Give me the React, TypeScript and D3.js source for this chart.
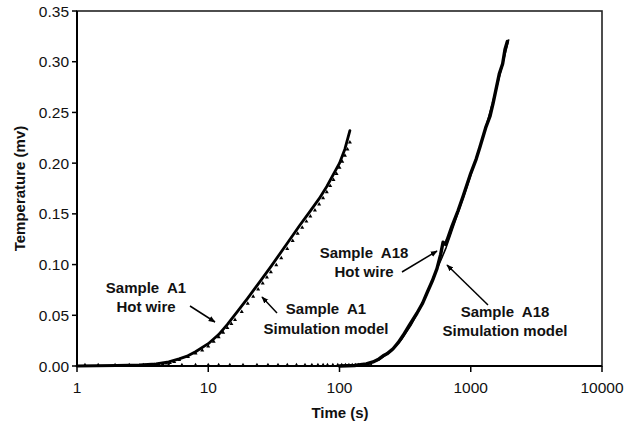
import React from "react";
import * as d3 from "d3";

// ---- Data ----
const xTicks = [1, 10, 100, 1000, 10000];
const yTicks = [0, 0.05, 0.1, 0.15, 0.2, 0.25, 0.3, 0.35];

// Sample A1 – hot wire (thick line)
const a1HotT = [1, 2, 3, 4, 5, 6, 7, 8, 10, 12, 14, 17, 20, 25, 30, 40, 50, 60, 70, 80, 100, 110, 120];
const a1HotV = [0, 0.0005, 0.001, 0.002, 0.004, 0.007, 0.010, 0.014, 0.022, 0.031, 0.041, 0.055, 0.067, 0.084, 0.098, 0.121, 0.139, 0.153, 0.165, 0.177, 0.200, 0.214, 0.232];

// Sample A1 – simulation model (triangle markers)
const a1SimT = [3, 3.3, 3.6, 3.9, 4.2, 4.5, 4.8, 5.1, 5.5, 6, 7, 8, 9, 10, 11, 12, 13, 14, 15, 16, 18, 20, 22, 24, 26, 28, 30, 33, 36, 40, 44, 48, 52, 56, 60, 65, 70, 75, 80, 85, 90, 95, 100, 105, 110, 115, 120];
const a1SimV = [0.0008, 0.001, 0.0013, 0.0016, 0.002, 0.0025, 0.003, 0.0037, 0.0045, 0.0065, 0.0095, 0.013, 0.016, 0.020, 0.0245, 0.029, 0.0335, 0.038, 0.042, 0.046, 0.054, 0.062, 0.069, 0.076, 0.082, 0.088, 0.093, 0.100, 0.107, 0.116, 0.124, 0.131, 0.137, 0.143, 0.148, 0.154, 0.160, 0.166, 0.172, 0.178, 0.184, 0.190, 0.196, 0.202, 0.208, 0.214, 0.221];

// Sample A18 – hot wire (thick wobbly line)
const a18HotT = [100, 130, 160, 180, 200, 215, 230, 256, 280, 305, 340, 389, 430, 464, 510, 553, 590, 615, 640, 660, 720, 800, 873, 1000, 1100, 1175, 1300, 1400, 1479, 1650, 1750, 1823, 1900];
const a18HotV = [0, 0.0005, 0.002, 0.004, 0.007, 0.010, 0.012, 0.017, 0.023, 0.030, 0.040, 0.052, 0.062, 0.072, 0.084, 0.096, 0.110, 0.122, 0.120, 0.124, 0.138, 0.153, 0.167, 0.190, 0.204, 0.216, 0.235, 0.246, 0.259, 0.288, 0.298, 0.312, 0.320];

// Sample A18 – simulation model (thin line)
const a18SimT = [100, 150, 200, 250, 300, 350, 400, 450, 500, 550, 600, 650, 700, 800, 900, 1000, 1200, 1400, 1600, 1800, 1950];
const a18SimV = [0, 0.001, 0.006, 0.015, 0.027, 0.040, 0.054, 0.068, 0.082, 0.095, 0.106, 0.117, 0.129, 0.151, 0.170, 0.188, 0.220, 0.250, 0.278, 0.304, 0.322];

// Simulation markers lying on the zero line
const zeroMarkT = [1.15, 1.45, 1.95, 2.5, 3.2, 4, 5, 6.3, 8, 10, 12, 14.6, 18.4, 23.5, 28.5, 34, 40, 47, 54.6, 61.6, 68.5, 75, 81, 89, 97, 104, 111, 118, 125, 132, 139, 146, 153, 160, 167, 174];

const W = 633;
const H = 425;
const left = 77, right = 602, top = 11, bottom = 366;

export default function App() {
  const x = d3.scaleLog().domain([1, 10000]).range([left, right]);
  const y = d3.scaleLinear().domain([0, 0.35]).range([bottom, top]);

  const line = d3
    .line<[number, number]>()
    .x((d) => x(d[0]))
    .y((d) => y(d[1]));

  const zip = (t: number[], v: number[]) => t.map((tt, i) => [tt, v[i]] as [number, number]);

  const a1Hot = zip(a1HotT, a1HotV);
  const a1Sim = zip(a1SimT, a1SimV);
  const a18Hot = zip(a18HotT, a18HotV);
  const a18Sim = zip(a18SimT, a18SimV);

  const tri = d3.symbol().type(d3.symbolTriangle).size(7)() as string;

  const font = "'Liberation Sans', Arial, sans-serif";
  const labelStyle: React.CSSProperties = { whiteSpace: "pre" };

  return (
    <svg
      width={W}
      height={H}
      style={{ position: "absolute", left: 0, top: 0, background: "#fff" }}
      fontFamily={font}
    >
      <defs>
        <marker id="ah" viewBox="0 0 10 10" refX="9" refY="5" markerWidth="7" markerHeight="7" orient="auto-start-reverse" markerUnits="userSpaceOnUse">
          <path d="M0,1 L10,5 L0,9 Z" fill="#000" />
        </marker>
      </defs>
      <rect x={0} y={0} width={W} height={H} fill="#fff" />

      {/* frame */}
      <rect x={left} y={top} width={right - left} height={bottom - top} fill="none" stroke="#222" strokeWidth={1.6} />
      <line x1={left} x2={left} y1={top} y2={bottom} stroke="#000" strokeWidth={2} />
      <line x1={left} x2={right} y1={bottom} y2={bottom} stroke="#000" strokeWidth={2} />

      {/* y ticks */}
      {yTicks.map((t) => (
        <g key={"y" + t}>
          <line x1={left - 5} x2={left} y1={y(t)} y2={y(t)} stroke="#000" strokeWidth={1.5} />
          <text x={left - 8} y={y(t)} dy="0.36em" textAnchor="end" fontSize={15.5} fill="#111">
            {t.toFixed(2)}
          </text>
        </g>
      ))}

      {/* x ticks */}
      {xTicks.map((t) => (
        <g key={"x" + t}>
          <line x1={x(t)} x2={x(t)} y1={bottom} y2={bottom + 6} stroke="#000" strokeWidth={1.5} />
          <text x={x(t)} y={393} textAnchor="middle" fontSize={15.5} fill="#111">
            {String(t)}
          </text>
        </g>
      ))}

      {/* axis titles */}
      <text x={340} y={418} textAnchor="middle" fontSize={15} fontWeight="bold" fill="#111">
        Time (s)
      </text>
      <text
        transform={`translate(25, ${(top + bottom) / 2}) rotate(-90)`}
        textAnchor="middle"
        fontSize={15}
        fontWeight="bold"
        fill="#111"
      >
        Temperature (mv)
      </text>

      {/* zero-line markers */}
      {zeroMarkT.map((t, i) => (
        <path key={"z" + i} d={tri} transform={`translate(${x(t)},${y(0) - 1})`} fill="#000" />
      ))}

      {/* A1 simulation markers */}
      {a1Sim.map((d, i) => (
        <path key={"s" + i} d={tri} transform={`translate(${x(d[0])},${y(d[1]) + 0.5})`} fill="#000" />
      ))}

      {/* lines */}
      <path d={line(a1Hot) || ""} fill="none" stroke="#000" strokeWidth={2.8} strokeLinejoin="round" strokeLinecap="round" />
      <path d={line(a18Sim) || ""} fill="none" stroke="#000" strokeWidth={1.6} strokeLinejoin="round" />
      <path d={line(a18Hot) || ""} fill="none" stroke="#000" strokeWidth={3.4} strokeLinejoin="round" strokeLinecap="round" />

      {/* annotations */}
      <g fontSize={15} fontWeight="bold" fill="#111" textAnchor="middle" style={labelStyle}>
        <text x={146} y={293} style={labelStyle}>{"Sample  A1"}</text>
        <text x={146} y={312} style={labelStyle}>{"Hot wire"}</text>

        <text x={326} y={314} style={labelStyle}>{"Sample  A1"}</text>
        <text x={326} y={334} style={labelStyle}>{"Simulation model"}</text>

        <text x={364} y={258} style={labelStyle}>{"Sample  A18"}</text>
        <text x={364} y={277} style={labelStyle}>{"Hot wire"}</text>

        <text x={505} y={317} style={labelStyle}>{"Sample  A18"}</text>
        <text x={505} y={336} style={labelStyle}>{"Simulation model"}</text>
      </g>

      <g stroke="#000" strokeWidth={1.5}>
        <line x1={190} y1={306} x2={215} y2={322} markerEnd="url(#ah)" />
        <line x1={277} y1={313} x2={262} y2={297} markerEnd="url(#ah)" />
        <line x1={402} y1={272} x2={437} y2={251} markerEnd="url(#ah)" />
        <line x1={488} y1={305} x2={447} y2={265} markerEnd="url(#ah)" />
      </g>
    </svg>
  );
}
